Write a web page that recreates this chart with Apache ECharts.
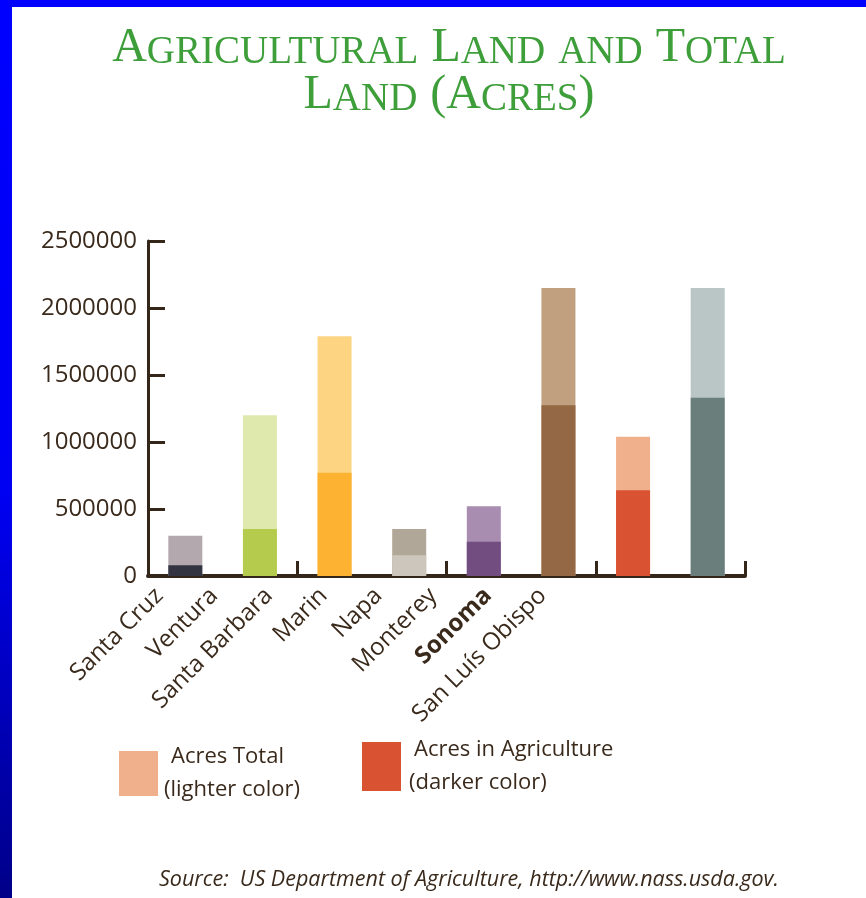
<!DOCTYPE html>
<html>
<head>
<meta charset="utf-8">
<script src="https://cdn.jsdelivr.net/npm/echarts@6/dist/echarts.min.js"></script>
<style>
html,body{margin:0;padding:0;background:#fff;}
#chart{width:866px;height:898px;}
</style>
</head>
<body>
<div id="chart"></div>
<script>
// ---- data ----
const counties = ['Santa Cruz', 'Ventura', 'Santa Barbara', 'Marin', 'Napa', 'Monterey', 'Sonoma', 'San Luís Obispo'];
const acresTotal = [300000, 1200000, 1790000, 350000, 520000, 2150000, 1040000, 2150000];
const acresAgriculture = [80000, 350000, 770000, 155000, 255000, 1275000, 640000, 1330000];
const yTicks = [0, 500000, 1000000, 1500000, 2000000, 2500000];

// ---- styles ----
const totalColors = ['#b3a8ae', '#dfe8ad', '#fdd482', '#b0a799', '#a98db1', '#c0a07f', '#f0b08b', '#bac5c5'];
const agColors = ['#323541', '#b5cb4e', '#fdb331', '#cdc6bc', '#724d80', '#946845', '#d95232', '#6a7e7b'];
const ink = '#3a2a1c';
const FONT = '"Open Sans", "Noto Sans", sans-serif';
const SERIF = '"Liberation Serif", "DejaVu Serif", serif';
const green = '#3d9e3a';

const chart = echarts.init(document.getElementById('chart'), null, {renderer: 'canvas'});

const option = {
  backgroundColor: '#ffffff',
  animation: false,
  graphic: [
    {type: 'rect', shape: {x: 0, y: 0, width: 866, height: 7}, style: {fill: '#0000ff'}, z: 100},
    {type: 'rect', shape: {x: 0, y: 0, width: 12, height: 898},
     style: {fill: new echarts.graphic.LinearGradient(0, 0, 0, 1, [
       {offset: 0, color: '#0000ff'}, {offset: 0.55, color: '#0000f2'}, {offset: 1, color: '#000088'}])}, z: 100}
  ],
  title: [
    {
      text: '{b|A}{s|GRICULTURAL}{g| }{b|L}{s|AND}{g| }{s|AND}{g| }{b|T}{s|OTAL}\n{b|L}{s|AND}{g| }{b|(}{b|A}{s|CRES}{b|)}',
      left: 444, top: 20, textAlign: 'center',
      textStyle: {
        fontWeight: 'normal',
        rich: {
          b: {fontFamily: SERIF, fontWeight: 'normal', fontSize: 48, color: green, lineHeight: 47, verticalAlign: 'bottom'},
          s: {fontFamily: SERIF, fontWeight: 'normal', fontSize: 39, color: green, lineHeight: 47, verticalAlign: 'bottom'},
          g: {fontFamily: SERIF, fontWeight: 'normal', fontSize: 39, color: green, lineHeight: 47, verticalAlign: 'bottom', width: 13}
        }
      }
    },
    {
      text: 'Source:  US Department of Agriculture, http://www.nass.usda.gov.',
      left: 154, top: 864,
      textStyle: {fontFamily: FONT, fontSize: 21.5, fontStyle: 'italic', fontWeight: 'normal', color: ink}
    }
  ],
  legend: [
    {
      data: ['Acres Total'], left: 114, top: 741, icon: 'rect', itemWidth: 39, itemHeight: 45,
      selectedMode: false,
      formatter: () => '{a|Acres Total}\n{c|(lighter color)}',
      textStyle: {color: ink, fontFamily: FONT, fontSize: 22,
        rich: {a: {fontFamily: FONT, fontSize: 22, color: ink, lineHeight: 33, padding: [0, 0, 0, 8]},
               c: {fontFamily: FONT, fontSize: 22, color: ink, lineHeight: 33, padding: [0, 0, 0, 1]}}}
    },
    {
      data: ['Acres in Agriculture'], left: 357, top: 734, icon: 'rect', itemWidth: 39, itemHeight: 49,
      selectedMode: false,
      formatter: () => '{a|Acres in Agriculture}\n{c|(darker color)}',
      textStyle: {color: ink, fontFamily: FONT, fontSize: 22,
        rich: {a: {fontFamily: FONT, fontSize: 22, color: ink, lineHeight: 33, padding: [0, 0, 0, 8]},
               c: {fontFamily: FONT, fontSize: 22, color: ink, lineHeight: 33, padding: [0, 0, 0, 3]}}}
    }
  ],
  grid: [
    {left: 148, right: 121, top: 241, bottom: 322, containLabel: false},
    {left: 132, right: 296, top: 241, bottom: 322, containLabel: false}
  ],
  xAxis: [
    {
      type: 'category', gridIndex: 0, data: counties,
      axisLine: {show: true, lineStyle: {color: '#35261a', width: 4}},
      axisTick: {show: true, inside: true, length: 15, lineStyle: {color: '#35261a', width: 3}},
      axisLabel: {show: false},
      splitLine: {show: false}
    },
    {
      type: 'category', gridIndex: 1,
      data: counties.map(c => c === 'Sonoma' ? {value: c, textStyle: {fontWeight: 'bold'}} : c),
      axisLine: {show: false}, axisTick: {show: false}, splitLine: {show: false},
      axisLabel: {show: true, interval: 0, rotate: 45, margin: 16, color: ink,
        fontFamily: FONT, fontSize: 24}
    }
  ],
  yAxis: [
    {
      type: 'value', gridIndex: 0, min: 0, max: 2500000, interval: 500000,
      axisLine: {show: true, lineStyle: {color: '#35261a', width: 3}},
      axisTick: {show: true, inside: true, length: 17, lineStyle: {color: '#35261a', width: 3}},
      splitLine: {show: false},
      axisLabel: {margin: 11, color: ink, fontFamily: FONT, fontSize: 24, formatter: v => String(v)}
    },
    {type: 'value', gridIndex: 1, show: false, min: 0, max: 2500000}
  ],
  series: [
    {
      name: 'Acres Total', type: 'bar', xAxisIndex: 0, yAxisIndex: 0, barWidth: 34, barGap: '-100%',
      itemStyle: {color: '#f0b08b'},
      data: acresTotal.map((v, i) => ({value: v, itemStyle: {color: totalColors[i]}})),
      z: 2
    },
    {
      name: 'Acres in Agriculture', type: 'bar', xAxisIndex: 0, yAxisIndex: 0, barWidth: 34, barGap: '-100%',
      itemStyle: {color: '#d95232'},
      data: acresAgriculture.map((v, i) => ({value: v, itemStyle: {color: agColors[i]}})),
      z: 3
    }
  ]
};
chart.setOption(option);
</script>
</body>
</html>
